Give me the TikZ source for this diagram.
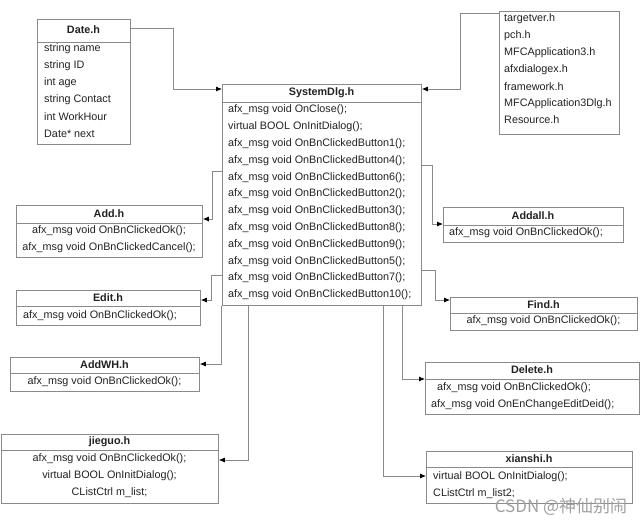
\documentclass[tikz,border=0pt]{standalone}
\usepackage{fontspec}
\setmainfont{Liberation Sans}
\newfontfamily\cjkfont{Noto Sans CJK SC}
\usetikzlibrary{arrows.meta}
\definecolor{boxgray}{HTML}{8A8A8A}
\definecolor{linegray}{HTML}{8A8A8A}
\definecolor{txt}{HTML}{222222}
\definecolor{wmgray}{HTML}{A0A0A0}
\begin{document}
\begin{tikzpicture}[x=1pt,y=-1pt,
  box/.style={draw=boxgray, line width=0.8pt, rectangle, inner sep=0pt, anchor=north west},
  hdr/.style={font=\fontsize{10.8}{12}\selectfont\bfseries, text=txt, inner sep=0pt, anchor=center},
  row/.style={font=\fontsize{10.8}{12}\selectfont, text=txt, inner sep=0pt, anchor=west},
  crow/.style={font=\fontsize{10.8}{12}\selectfont, text=txt, inner sep=0pt, anchor=center},
  conn/.style={draw=linegray, line width=0.8pt, -{Latex[length=6pt,width=5pt,color=black]}},
  div/.style={draw=boxgray, line width=0.8pt}]
\fill[white] (0,0) rectangle (644,525);
\useasboundingbox (0,0) rectangle (644,525);

% ---- Date.h
\node[box, minimum width=93pt, minimum height=125pt] (date) at (37,19) {};
\draw[div] (date.west |- 0,42) -- (date.east |- 0,42);
\node[hdr] (dateh) at (83.5,30) {Date.h};
\node[row] (date1) at (44,49) {string name};
\node[row] (date2) at (44,66) {string ID};
\node[row] (date3) at (44,83) {int age};
\node[row] (date4) at (44,100) {string Contact};
\node[row] (date5) at (44,117) {int WorkHour};
\node[row] (date6) at (44,134) {Date* next};

% ---- SystemDlg.h
\node[box, minimum width=199pt, minimum height=221pt] (sys) at (222,84) {};
\draw[div] (sys.west |- 0,102) -- (sys.east |- 0,102);
\node[hdr] (sysh) at (321.5,93) {SystemDlg.h};
\foreach \t [count=\k from 0] in {afx\_msg void OnClose();, virtual BOOL OnInitDialog();,
  afx\_msg void OnBnClickedButton1();, afx\_msg void OnBnClickedButton4();,
  afx\_msg void OnBnClickedButton6();, afx\_msg void OnBnClickedButton2();,
  afx\_msg void OnBnClickedButton3();, afx\_msg void OnBnClickedButton8();,
  afx\_msg void OnBnClickedButton9();, afx\_msg void OnBnClickedButton5();,
  afx\_msg void OnBnClickedButton7();, afx\_msg void OnBnClickedButton10();}
  \node[row] (sys\k) at (228,110+16.82*\k) {\t};

% ---- includes
\node[box, minimum width=120pt, minimum height=123pt] (inc) at (499,11) {};
\foreach \t [count=\k from 0] in {targetver.h, pch.h, MFCApplication3.h, afxdialogex.h,
  framework.h, MFCApplication3Dlg.h, Resource.h}
  \node[row] (inc\k) at (504,19+16.85*\k) {\t};

% ---- Add.h
\node[box, minimum width=186pt, minimum height=52pt] (add) at (16,205) {};
\draw[div] (add.west |- 0,223) -- (add.east |- 0,223);
\node[hdr] (addh) at (109,214) {Add.h};
\node[crow] (add1) at (109,231) {afx\_msg void OnBnClickedOk();};
\node[crow] (add2) at (109,248) {afx\_msg void OnBnClickedCancel();};

% ---- Edit.h
\node[box, minimum width=184pt, minimum height=35pt] (edit) at (16,290) {};
\draw[div] (edit.west |- 0,306) -- (edit.east |- 0,306);
\node[hdr] (edith) at (108,298) {Edit.h};
\node[row] (edit1) at (23,316) {afx\_msg void OnBnClickedOk();};

% ---- AddWH.h
\node[box, minimum width=189pt, minimum height=34pt] (addwh) at (10,357) {};
\draw[div] (addwh.west |- 0,373) -- (addwh.east |- 0,373);
\node[hdr] (addwhh) at (104.5,365) {AddWH.h};
\node[crow] (addwh1) at (104.5,382) {afx\_msg void OnBnClickedOk();};

% ---- jieguo.h
\node[box, minimum width=217pt, minimum height=69pt] (jieguo) at (1,434) {};
\draw[div] (jieguo.west |- 0,450) -- (jieguo.east |- 0,450);
\node[hdr] (jieguoh) at (109.5,442) {jieguo.h};
\node[crow] (jieguo1) at (109.5,459) {afx\_msg void OnBnClickedOk();};
\node[crow] (jieguo2) at (109.5,476) {virtual BOOL OnInitDialog();};
\node[crow] (jieguo3) at (109.5,493) {CListCtrl m\_list;};

% ---- Addall.h
\node[box, minimum width=180pt, minimum height=35pt] (addall) at (443,207) {};
\draw[div] (addall.west |- 0,225) -- (addall.east |- 0,225);
\node[hdr] (addallh) at (533,216) {Addall.h};
\node[row] (addall1) at (449,233) {afx\_msg void OnBnClickedOk();};

% ---- Find.h
\node[box, minimum width=187pt, minimum height=33pt] (find) at (450,297) {};
\draw[div] (find.west |- 0,313) -- (find.east |- 0,313);
\node[hdr] (findh) at (543.5,305) {Find.h};
\node[crow] (find1) at (543.5,321) {afx\_msg void OnBnClickedOk();};

% ---- Delete.h
\node[box, minimum width=214pt, minimum height=52pt] (delete) at (425,362) {};
\draw[div] (delete.west |- 0,379) -- (delete.east |- 0,379);
\node[hdr] (deleteh) at (532,370) {Delete.h};
\node[row] (delete1) at (437,388) {afx\_msg void OnBnClickedOk();};
\node[row] (delete2) at (431,405) {afx\_msg void OnEnChangeEditDeid();};

% ---- xianshi.h
\node[box, minimum width=206pt, minimum height=52pt] (xianshi) at (426,451) {};
\draw[div] (xianshi.west |- 0,467) -- (xianshi.east |- 0,467);
\node[hdr] (xianshih) at (529,459) {xianshi.h};
\node[row] (xianshi1) at (433,477) {virtual BOOL OnInitDialog();};
\node[row] (xianshi2) at (433,494) {CListCtrl m\_list2;};

% ---- connectors
\draw[conn] (date.east |- 0,28) -| (173,89) -- (sys.west |- 0,89);
\draw[conn] (inc.west |- 0,13) -| (460,89) -- (sys.east |- 0,89);
\draw[conn] (sys.west |- 0,171) -| (212,219) -- (add.east |- 0,219);
\draw[conn] (sys.west |- 0,275) -| (211,300) -- (edit.east |- 0,300);
\draw[conn] (sys.south -| 221,0) |- (addwh.east |- 0,364);
\draw[conn] (sys.south -| 248,0) |- (jieguo.east |- 0,460);
\draw[conn] (sys.south -| 383,0) |- (xianshi.west |- 0,476);
\draw[conn] (sys.south -| 402,0) |- (delete.west |- 0,379);
\draw[conn] (sys.east |- 0,165) -| (432,224) -- (addall.west |- 0,224);
\draw[conn] (sys.east |- 0,270) -| (435,300) -- (find.west |- 0,300);

% ---- watermark
\node[text=wmgray, font=\cjkfont\fontsize{17}{19}\selectfont, inner sep=0pt] (wm) at (561,507) {CSDN @神仙别闹};
\end{tikzpicture}
\end{document}
